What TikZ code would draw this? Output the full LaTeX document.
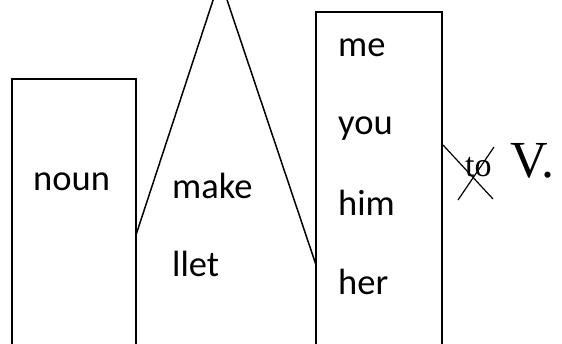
\documentclass[tikz,border=0pt]{standalone}
\usepackage{fontspec}
\setmainfont{Carlito}
\newfontfamily\timesfont{Liberation Serif}
\usetikzlibrary{positioning}

\tikzset{
    word/.style={inner sep=0pt, anchor=base west, font=\fontsize{36.5}{40}\selectfont},
    serifword/.style={inner sep=0pt, anchor=base west, font=\timesfont\fontsize{34}{38}\selectfont},
    outline/.style={black, line width=1.5pt},
}

\begin{document}
\begin{tikzpicture}[x=1pt, y=-1pt]
    \useasboundingbox (0,0) rectangle (562,344);

    % Subject box
    \draw[outline] (12,346) -- (12,79) -- (136,79) -- (136,346);
    \node[word] (noun) at (33,191) {noun};

    % Verb peak
    \draw[outline] (136,235) -- (220,-21) -- (316,265);
    \node[word] (make) at (172,199) {make};
    \node[word] (let) at (172,277) {llet};

    % Object box
    \draw[outline] (316,346) -- (316,12) -- (442,12) -- (442,346);
    \node[word] (me) at (338,57) {me};
    \node[word] (you) at (338,135) {you};
    \node[word] (him) at (338,216) {him};
    \node[word] (her) at (338,295) {her};

    % Crossed-out "to" and the bare verb
    \node[serifword] (to) at (465,177) {to};
    \node[serifword, font=\timesfont\fontsize{52}{56}\selectfont] (verb) at (510,178) {V.};
    \coordinate (crossA) at (443,145);
    \coordinate (crossB) at (493,199);
    \coordinate (crossC) at (458,200);
    \coordinate (crossD) at (494,147);
    \draw[line width=1.2pt] (crossA) -- (crossB);
    \draw[line width=1.2pt] (crossC) -- (crossD);
\end{tikzpicture}
\end{document}
